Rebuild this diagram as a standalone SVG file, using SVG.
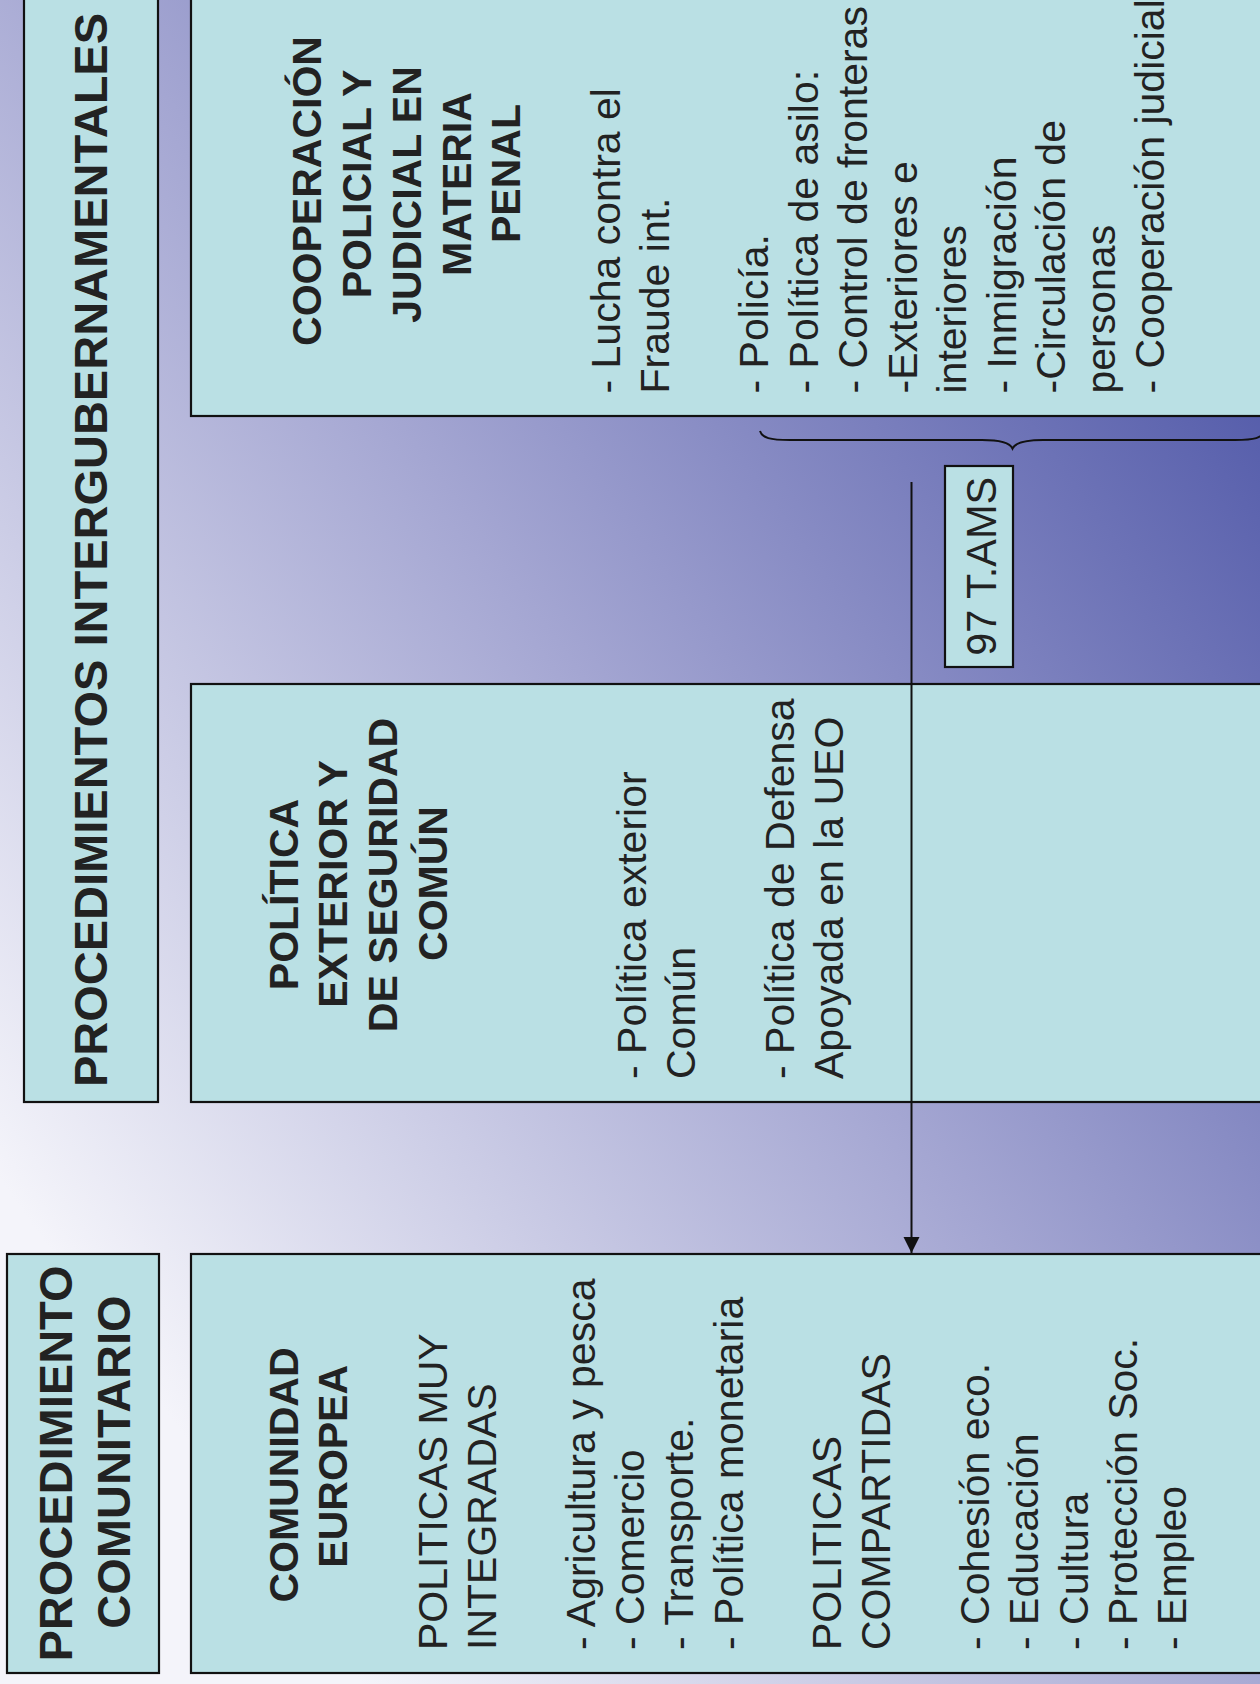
<svg xmlns="http://www.w3.org/2000/svg" width="1260" height="1684" viewBox="0 0 1260 1684">
  <defs>
    <linearGradient id="bg" gradientUnits="userSpaceOnUse" x1="0" y1="1180" x2="1246" y2="286">
      <stop offset="0" stop-color="#F4F4FA"/>
      <stop offset="0.5" stop-color="#A4A6D2"/>
      <stop offset="1" stop-color="#5058A8"/>
    </linearGradient>
    <marker id="arrow" viewBox="0 0 10 10" refX="10" refY="5" markerUnits="userSpaceOnUse" markerWidth="16" markerHeight="17" orient="auto">
      <path d="M0,0 L10,5 L0,10 z" fill="#111"/>
    </marker>
    <style>
      .box { fill: #BAE0E4; stroke: #111; stroke-width: 2.2; }
      .t { font-family: "Liberation Sans", Arial, Helvetica, sans-serif; fill: #222; }
      .hb { font-size: 47px; font-weight: bold; text-anchor: middle; }
      .tb { font-size: 41px; font-weight: bold; text-anchor: middle; }
      .bd { font-size: 41px; text-anchor: start; }
      .conn { fill: none; stroke: #111; stroke-width: 2; }
    </style>
  </defs>

  <rect x="0" y="0" width="1260" height="1684" fill="url(#bg)"/>

  <g id="header-intergubernamentales">
    <rect class="box" x="24" y="-10" width="134" height="1112"/>
    <g transform="translate(0,1684) rotate(-90)">
      <text class="t hb" x="1134" y="107">PROCEDIMIENTOS INTERGUBERNAMENTALES</text>
    </g>
  </g>

  <g id="header-comunitario">
    <rect class="box" x="7" y="1254" width="152" height="419"/>
    <g transform="translate(0,1684) rotate(-90)">
      <text class="t hb" x="220.5" y="72">PROCEDIMIENTO</text>
      <text class="t hb" x="222" y="130">COMUNITARIO</text>
    </g>
  </g>

  <g id="box-cooperacion">
    <rect class="box" x="191" y="-10" width="1080" height="426"/>
    <g transform="translate(0,1684) rotate(-90)">
      <text class="t tb" x="1493" y="321">COOPERACIÓN</text>
      <text class="t tb" x="1500" y="371">POLICIAL Y</text>
      <text class="t tb" x="1489.5" y="421">JUDICIAL EN</text>
      <text class="t tb" x="1500" y="470.5">MATERIA</text>
      <text class="t tb" x="1510.5" y="520">PENAL</text>
      <text class="t bd" x="1290.5" y="619.5">- Lucha contra el</text>
      <text class="t bd" x="1290.5" y="669">Fraude int.</text>
      <text class="t bd" x="1290.5" y="768">- Policía.</text>
      <text class="t bd" x="1290.5" y="817.5">- Política de asilo:</text>
      <text class="t bd" x="1290.5" y="867">- Control de fronteras</text>
      <text class="t bd" x="1290.5" y="916.5">-Exteriores e</text>
      <text class="t bd" x="1290.5" y="966">interiores</text>
      <text class="t bd" x="1290.5" y="1015.5">- Inmigración</text>
      <text class="t bd" x="1290.5" y="1065">-Circulación de</text>
      <text class="t bd" x="1290.5" y="1114.5">personas</text>
      <text class="t bd" x="1290.5" y="1164">- Cooperación judicial</text>
    </g>
  </g>

  <g id="box-pesc">
    <rect class="box" x="191" y="684" width="1080" height="418"/>
    <g transform="translate(0,1684) rotate(-90)">
      <text class="t tb" x="789.5" y="298.3">POLÍTICA</text>
      <text class="t tb" x="800" y="347">EXTERIOR Y</text>
      <text class="t tb" x="809" y="397">DE SEGURIDAD</text>
      <text class="t tb" x="800.5" y="446.5">COMÚN</text>
      <text class="t bd" x="605" y="646">- Política exterior</text>
      <text class="t bd" x="605" y="695.3">Común</text>
      <text class="t bd" x="605" y="793.9">- Política de Defensa</text>
      <text class="t bd" x="605" y="843.2">Apoyada en la UEO</text>
    </g>
  </g>

  <g id="box-comunidad">
    <rect class="box" x="191" y="1254" width="1080" height="419"/>
    <g transform="translate(0,1684) rotate(-90)">
      <text class="t tb" x="209" y="298.3">COMUNIDAD</text>
      <text class="t tb" x="217.7" y="346.7">EUROPEA</text>
      <text class="t bd" x="34" y="446.7">POLITICAS MUY</text>
      <text class="t bd" x="34" y="496">INTEGRADAS</text>
      <text class="t bd" x="34" y="594.6">- Agricultura y pesca</text>
      <text class="t bd" x="34" y="643.9">- Comercio</text>
      <text class="t bd" x="34" y="693.2">- Transporte.</text>
      <text class="t bd" x="34" y="742.5">- Política monetaria</text>
      <text class="t bd" x="34" y="841.1">POLITICAS</text>
      <text class="t bd" x="34" y="890.4">COMPARTIDAS</text>
      <text class="t bd" x="34" y="989">- Cohesión eco.</text>
      <text class="t bd" x="34" y="1038.3">- Educación</text>
      <text class="t bd" x="34" y="1087.6">- Cultura</text>
      <text class="t bd" x="34" y="1136.9">- Protección Soc.</text>
      <text class="t bd" x="34" y="1186.2">- Empleo</text>
    </g>
  </g>

  <g id="label-97tams">
    <rect class="box" x="945" y="466" width="68" height="201" stroke-width="2"/>
    <g transform="translate(0,1684) rotate(-90)">
      <text class="t" x="1117.7" y="996" font-size="43" text-anchor="middle" textLength="179" lengthAdjust="spacingAndGlyphs">97 T.AMS</text>
    </g>
  </g>

  <g id="connectors">
    <line class="conn" x1="911.5" y1="482" x2="911.5" y2="1253" marker-end="url(#arrow)"/>
    <path class="conn" d="M760,431 C762,438 770,440 790,440 L982,440 C1000,440 1010,443 1012.5,448.5 C1015,443 1025,440 1043,440 L1235,440 C1255,440 1262,438 1264,431"/>
  </g>
</svg>
